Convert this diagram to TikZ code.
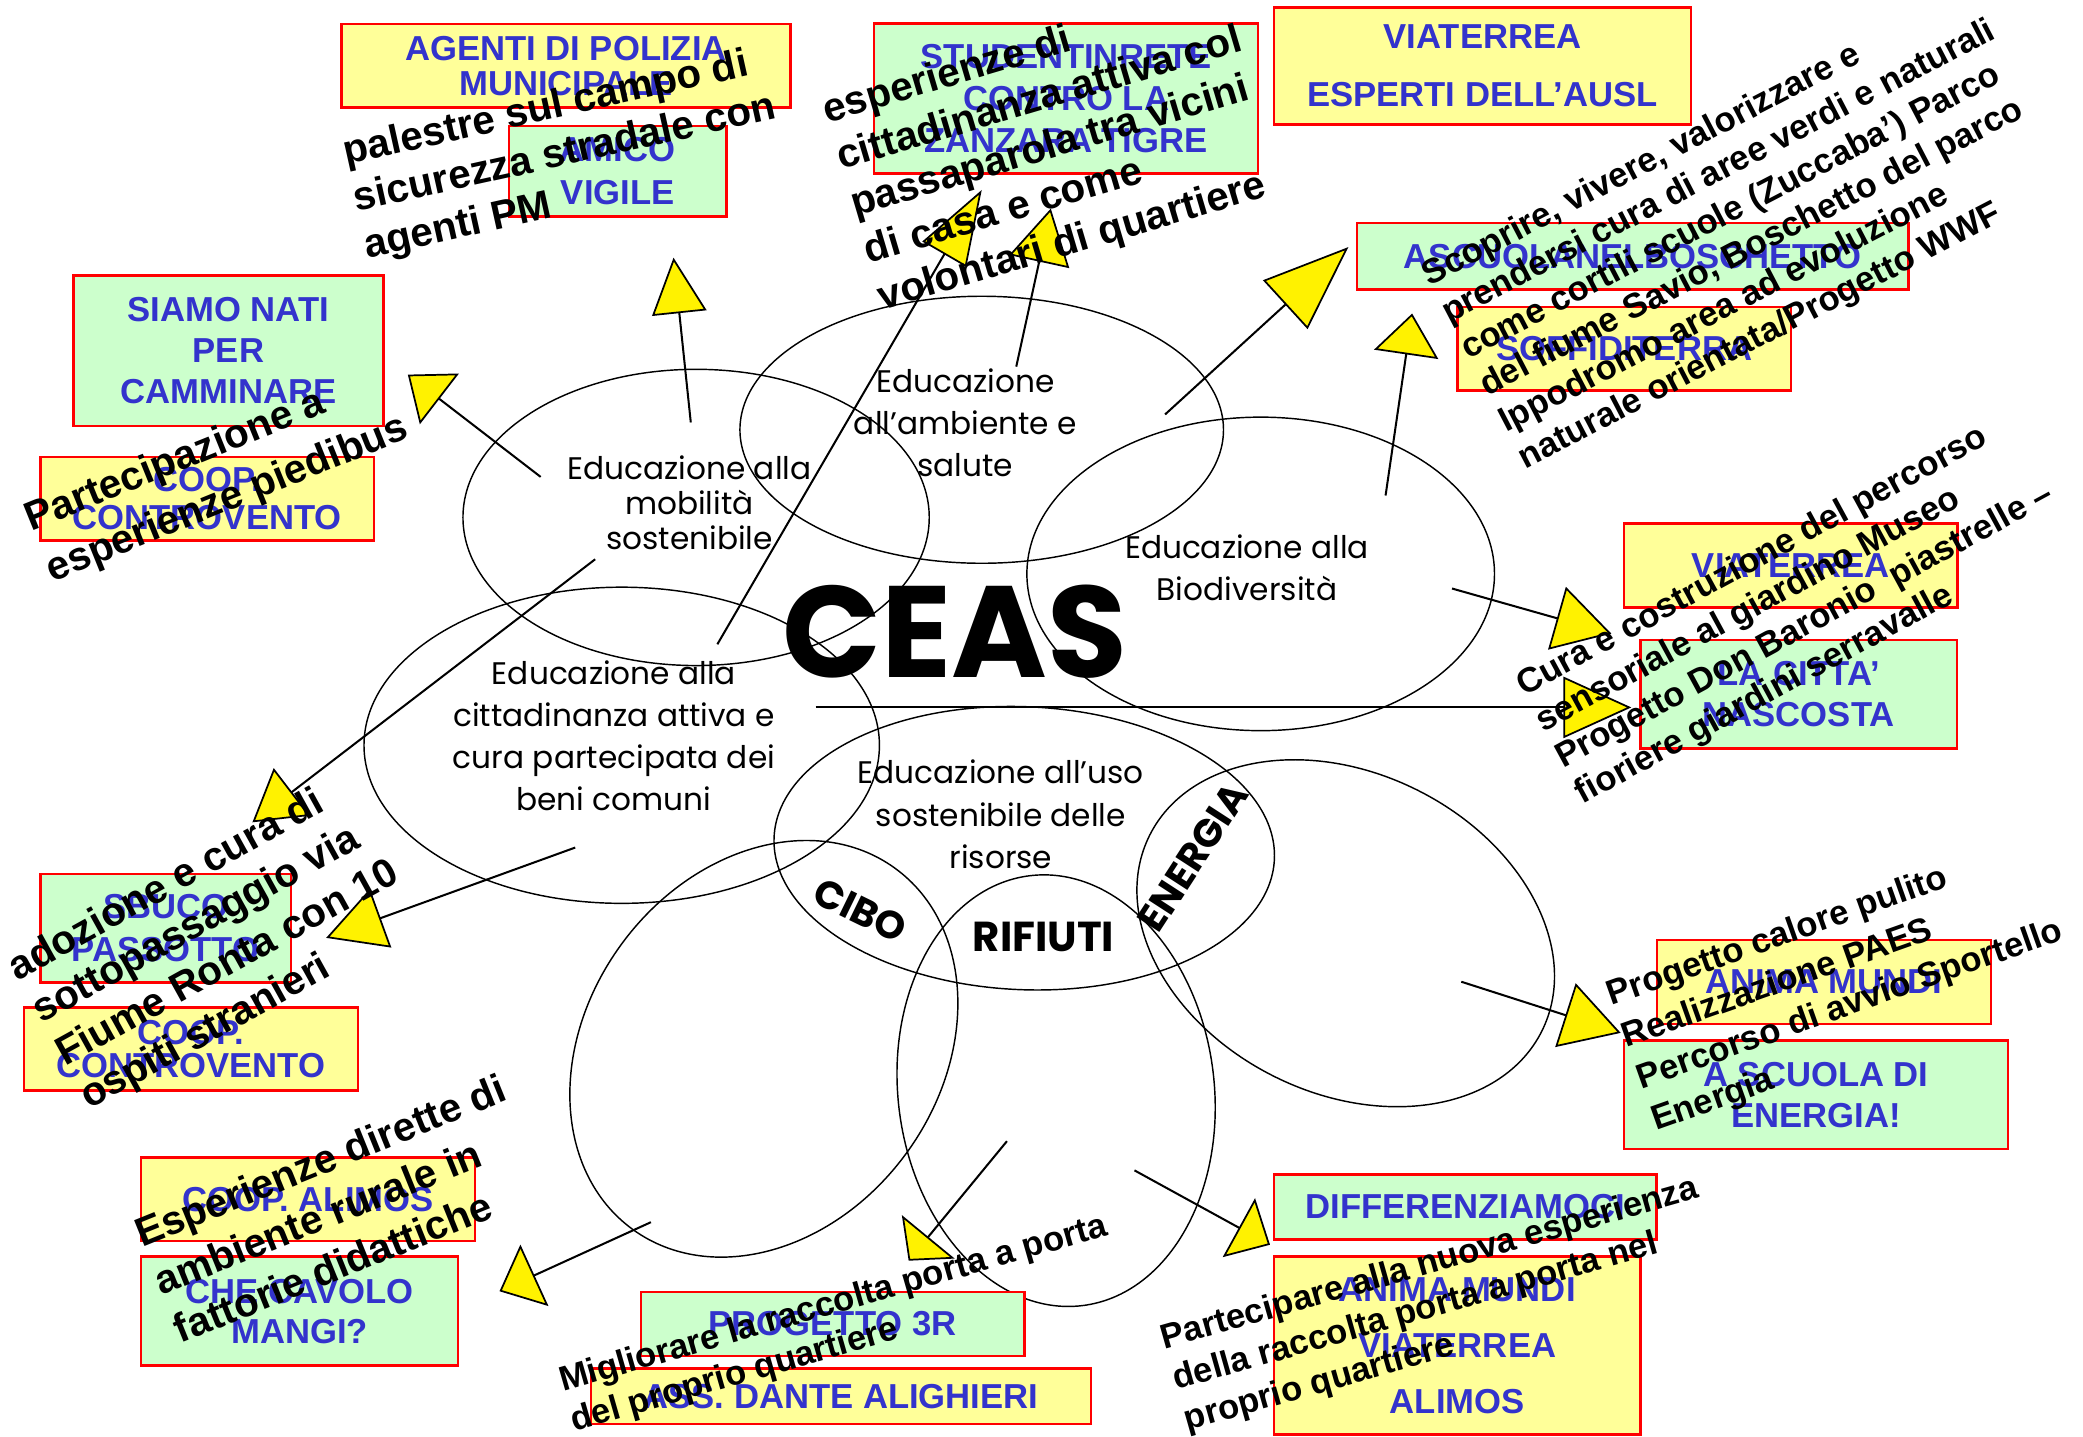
\documentclass[tikz,border=0pt]{standalone}
\usepackage{fontspec}
\setmainfont{Liberation Sans}
\newfontfamily\comic{Poppins}
\usetikzlibrary{arrows.meta}
\definecolor{boxyellow}{HTML}{FFFF99}
\definecolor{boxgreen}{HTML}{CCFFCC}
\definecolor{boxblue}{HTML}{3333CC}
\tikzset{
  yellowbox/.style={draw=red,line width=0.9pt,fill=boxyellow,text=boxblue,align=center,inner sep=0pt,
    font=\bfseries\fontsize{12}{#1}\selectfont},
  yellowbox/.default=14pt,
  greenbox/.style={yellowbox=#1,fill=boxgreen},
  greenbox/.default=14pt,
  bignote/.style={align=left,inner sep=0pt,font=\bfseries\fontsize{14}{#1}\selectfont},
  smallnote/.style={align=left,inner sep=0pt,font=\bfseries\fontsize{12}{#1}\selectfont},
  theme/.style={align=center,inner sep=0pt,font=\comic\fontsize{10.8}{#1}\selectfont},
  tip/.style 2 args={line width=0.7pt,-{Triangle[length=#1,width=#2,fill=yellow,line width=0.6pt]}},
}
\begin{document}
\begin{tikzpicture}[x=0.46pt,y=-0.46pt,line width=0.5pt]
\fill[white] (0,0) rectangle (1568,1081);
\useasboundingbox (0,0) rectangle (1568,1081);

% ellipses
\draw (524,389.5) ellipse [x radius=175.5, y radius=111.5];
\draw (739,323.5) ellipse [x radius=182, y radius=100.5];
\draw (949,432) ellipse [x radius=176, y radius=118];
\draw (468,561) ellipse [x radius=194, y radius=119];
\draw[rotate around={-2.5:(771,638.5)}] (771,638.5) ellipse [x radius=188.5, y radius=106.5];
\draw[rotate around={54:(575,789.5)}] (575,789.5) ellipse [x radius=168, y radius=133];
\draw[rotate around={7:(795,821)}] (795,821) ellipse [x radius=119, y radius=163];
\draw[rotate around={-26.5:(1013,702.5)}] (1013,702.5) ellipse [x radius=165, y radius=120.5];

% arrows
\coordinate (mobUp) at (520,318);       \coordinate (mobUpEnd) at (507,194);
\coordinate (mobLeft) at (407,359);     \coordinate (mobLeftEnd) at (307,282);
\coordinate (mobDown) at (448,421);     \coordinate (mobDownEnd) at (190,619);
\coordinate (citDown) at (433,638);     \coordinate (citDownEnd) at (245.5,706);
\coordinate (citUp) at (540,485);       \coordinate (citUpEnd) at (739,143);
\coordinate (ambUp) at (765,276);       \coordinate (ambUpEnd) at (791,157);
\coordinate (ambRight) at (877,312);    \coordinate (ambRightEnd) at (1015,186);
\coordinate (bioUp) at (1043,373);      \coordinate (bioUpEnd) at (1063,236);
\coordinate (bioRight) at (1093,443);   \coordinate (bioRightEnd) at (1213,477);
\coordinate (ceasRight) at (614,532.5); \coordinate (ceasRightEnd) at (1228,532.5);
\coordinate (enRight) at (1100,739);    \coordinate (enRightEnd) at (1220,777.5);
\coordinate (rifRight) at (854,881);    \coordinate (rifRightEnd) at (956,937);
\coordinate (rifLeft) at (758,859);     \coordinate (rifLeftEnd) at (684,949);
\coordinate (ciboLeft) at (490,920);    \coordinate (ciboLeftEnd) at (376,972);

\draw[tip={19.3pt}{18.9pt}] (mobUp)--(mobUpEnd);
\draw[tip={13.8pt}{22.1pt}] (mobLeft)--(mobLeftEnd);
\draw[tip={17.3pt}{20.7pt}] (mobDown)--(mobDownEnd);
\draw[tip={20.1pt}{21.6pt}] (citDown)--(citDownEnd);
\draw[tip={25.8pt}{17.5pt}] (citUp)--(citUpEnd);
\draw[tip={18.8pt}{21.2pt}] (ambUp)--(ambUpEnd);
\draw[tip={29.6pt}{22.8pt}] (ambRight)--(ambRightEnd);
\draw[tip={14.3pt}{22.4pt}] (bioUp)--(bioUpEnd);
\draw[tip={19.6pt}{22.5pt}] (bioRight)--(bioRightEnd);
\draw[tip={23.5pt}{21.2pt}] (ceasRight)--(ceasRightEnd);
\draw[tip={20.1pt}{23.1pt}] (enRight)--(enRightEnd);
\draw[tip={12.3pt}{23.2pt}] (rifRight)--(rifRightEnd);
\draw[tip={10.7pt}{23.6pt}] (rifLeft)--(rifLeftEnd);
\draw[tip={13.3pt}{23.3pt}] (ciboLeft)--(ciboLeftEnd);

% boxes
\node[yellowbox=12pt,minimum width=155.5pt,minimum height=29pt] (agenti) at (426,49.5) {AGENTI DI POLIZIA\\MUNICIPALE};
\node[greenbox=15pt,minimum width=75.4pt,minimum height=31.3pt] (amico) at (465,129) {AMICO\\VIGILE};
\node[greenbox=14.5pt,minimum width=133pt,minimum height=52pt] (studenti) at (802.5,74) {STUDENTINRETE\\CONTRO LA\\ZANZARA TIGRE};
\node[yellowbox=20.2pt,minimum width=144.4pt,minimum height=40.5pt] (ausl) at (1116,49.5) {VIATERREA\\ESPERTI DELL’AUSL};
\node[greenbox,minimum width=190.9pt,minimum height=23pt] (boschetto) at (1229,193) {ASCUOLANELBOSCHETTO};
\node[yellowbox,minimum width=115.5pt,minimum height=29pt] (soffi) at (1222.5,262.5) {SOFFIDITERRA};
\node[greenbox=14.3pt,minimum width=107.2pt,minimum height=52pt] (siamo) at (172,264) {SIAMO NATI\\PER\\CAMMINARE};
\node[yellowbox=13.2pt,minimum width=115.6pt,minimum height=29pt] (coopUp) at (156,375.4) {COOP.\\CONTROVENTO};
\node[yellowbox,minimum width=115.5pt,minimum height=29.2pt] (viaterrea) at (1348,425.7) {VIATERREA};
\node[greenbox=13.9pt,minimum width=109.5pt,minimum height=37.5pt] (citta) at (1354,522.5) {LA CITTA’\\NASCOSTA};
\node[greenbox=15pt,minimum width=86.8pt,minimum height=37.5pt] (sbuco) at (124.7,698.8) {SBUCO\\PASSOTTO};
\node[yellowbox=11.5pt,minimum width=115.6pt,minimum height=28.8pt] (coopDown) at (143.7,789.7) {COOP.\\CONTROVENTO};
\node[yellowbox,minimum width=115.6pt,minimum height=29pt] (alimos) at (231.8,902.7) {COOP. ALIMOS};
\node[greenbox=13.9pt,minimum width=109.8pt,minimum height=37.7pt] (cavolo) at (225.5,987) {CHE CAVOLO\\MANGI?};
\node[greenbox,minimum width=132.7pt,minimum height=22.2pt] (treR) at (626.8,996.7) {PROGETTO 3R};
\node[yellowbox,minimum width=173.2pt,minimum height=19.2pt] (dante) at (633,1051.2) {ASS. DANTE ALIGHIERI};
\node[yellowbox,minimum width=115.6pt,minimum height=29.1pt] (animaUp) at (1373,739.3) {ANIMA MUNDI};
\node[greenbox=14.4pt,minimum width=133pt,minimum height=37.5pt] (scuolaEnergia) at (1367,824.2) {A SCUOLA DI\\ENERGIA!};
\node[greenbox,minimum width=132.5pt,minimum height=22.5pt] (diff) at (1103,908.5) {DIFFERENZIAMOCI};
\node[yellowbox=19.3pt,minimum width=127pt,minimum height=61.6pt] (animaDown) at (1097,1013) {ANIMA MUNDI\\VIATERREA\\ALIMOS};

% themes
\node[theme=12pt] (mobilita) at (519,378.5) {Educazione alla\\mobilità\\sostenibile};
\node[theme=14.6pt] (ambiente) at (726.7,318.4) {Educazione\\all’ambiente e\\salute};
\node[theme=14.6pt] (biodiv) at (938.7,427.4) {Educazione alla\\Biodiversità};
\node[theme=14.6pt] (cittadinanza) at (462.2,553.7) {Educazione alla\\cittadinanza attiva e\\cura partecipata dei\\beni comuni};
\node[theme=14.6pt] (risorse) at (753.4,613) {Educazione all’uso\\sostenibile delle\\risorse};
\node[font=\comic\bfseries\fontsize{45}{50}\selectfont,anchor=base,inner sep=0pt] (ceas) at (718.6,510) {CEAS};
\node[font=\comic\bfseries\fontsize{14.5}{16}\selectfont,anchor=base,inner sep=0pt] (rifiuti) at (785.5,716.4) {RIFIUTI};
\node[font=\comic\bfseries\fontsize{13.5}{15}\selectfont,rotate=-26,inner sep=0pt] (cibo) at (647.7,685.1) {CIBO};
\node[font=\comic\bfseries\fontsize{13.5}{15}\selectfont,rotate=57,inner sep=0pt] (energia) at (897.9,645.3) {ENERGIA};

% notes
\node[bignote=16.6pt,rotate=12.5] (palestre) at (425.4,116.5) {palestre sul campo di\\sicurezza stradale con\\agenti PM};
\node[bignote=16.9pt,rotate=16.5] (esperienze) at (793,110.6) {esperienze di\\cittadinanza attiva col\\passaparola tra vicini\\di casa e come\\volontari di quartiere};
\node[smallnote=14.3pt,rotate=27.5] (scoprire) at (1315.6,171.2) {Scoprire, vivere, valorizzare e\\prendersi cura di aree verdi e naturali\\come cortili scuole (Zuccaba’) Parco\\del fiume Savio, Boschetto del parco\\Ippodromo area ad evoluzione\\naturale orientata/Progetto WWF};
\node[bignote=19pt,rotate=22] (piedibus) at (163.6,357.3) {Partecipazione a\\esperienze piedibus};
\node[bignote=17pt,rotate=29] (adozione) at (162.8,710) {adozione e cura di\\sottopassaggio via\\Fiume Ronta con 10\\ospiti stranieri};
\node[bignote=17.9pt,rotate=22] (fattorie) at (255.5,909.6) {Esperienze dirette di\\ambiente rurale in\\fattorie didattiche};
\node[smallnote=14.4pt,rotate=16] (migliorare) at (631.8,997.2) {Migliorare la raccolta porta a porta\\del proprio quartiere};
\node[smallnote=14.7pt,rotate=15.8] (partecipare) at (1085.1,982.7) {Partecipare alla nuova esperienza\\della raccolta porta a porta nel\\proprio quartiere};
\node[smallnote=14.2pt,rotate=28.5] (percorso) at (1351.5,458.3) {Cura e costruzione del percorso\\sensoriale al giardino Museo\\Progetto Don Baronio\ \ piastrelle –\\fioriere giardini serravalle};
\node[smallnote=15.3pt,rotate=19.5] (calore) at (1387,741.5) {Progetto calore pulito\\Realizzazione PAES\\Percorso di avvio Sportello\\Energia};
\end{tikzpicture}
\end{document}
